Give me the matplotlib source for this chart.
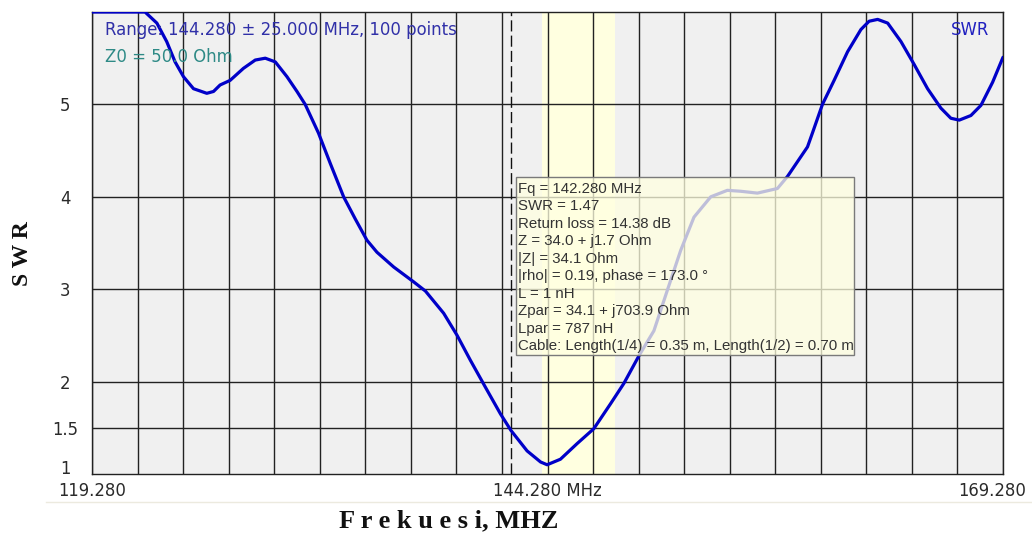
import matplotlib
matplotlib.use("Agg")
import matplotlib.pyplot as plt
import matplotlib.transforms as mtransforms
from matplotlib.patches import Rectangle
from matplotlib.lines import Line2D
import numpy as np

# ---------------- data ----------------
freq_mhz = [119.28, 122.19, 122.84, 123.38, 123.84, 124.30, 124.85, 125.58, 125.95, 126.31,
            126.86, 127.59, 128.24, 128.79, 129.34, 129.98, 130.53, 130.98, 131.71, 132.36,
            133.09, 133.73, 134.37, 134.92, 135.84, 136.93, 137.58, 138.58, 139.32, 140.05,
            140.87, 141.70, 142.28, 143.16, 143.90, 144.26, 144.99, 145.91, 146.82, 147.74,
            148.47, 149.30, 150.12, 150.86, 151.59, 152.32, 153.24, 154.15, 154.88, 155.80,
            156.90, 157.45, 158.55, 158.82, 159.37, 160.01, 160.75, 161.48, 161.93, 162.40,
            162.95, 163.68, 164.41, 165.14, 165.87, 166.42, 166.88, 167.52, 168.07, 168.71,
            169.28]
swr_values = [6.00, 6.00, 5.88, 5.68, 5.46, 5.30, 5.17, 5.12, 5.14, 5.21,
              5.26, 5.39, 5.48, 5.50, 5.46, 5.30, 5.14, 5.00, 4.69, 4.36,
              4.00, 3.76, 3.53, 3.40, 3.24, 3.08, 2.98, 2.74, 2.50, 2.23,
              1.94, 1.65, 1.47, 1.25, 1.13, 1.10, 1.16, 1.33, 1.49, 1.76,
              1.98, 2.28, 2.55, 2.99, 3.42, 3.78, 4.00, 4.07, 4.06, 4.04,
              4.09, 4.22, 4.54, 4.69, 5.00, 5.26, 5.57, 5.81, 5.90, 5.92,
              5.88, 5.68, 5.43, 5.17, 4.96, 4.85, 4.83, 4.88, 4.99, 5.24,
              5.51]

f_center = 144.280
f_span = 25.000
x_grid_step = 2.5
y_ticks = [1, 1.5, 2, 3, 4, 5]
y_tick_labels = ["1", "1.5", "2", "3", "4", "5"]
x_tick_values = [119.28, 144.28, 169.28]
x_tick_labels = ["119.280", "144.280 MHz", "169.280"]
band_low, band_high = 144.0, 148.0
marker_freq = 142.280

tooltip_lines = [
    "Fq = 142.280 MHz",
    "SWR = 1.47",
    "Return loss = 14.38 dB",
    "Z = 34.0 + j1.7 Ohm",
    "|Z| = 34.1 Ohm",
    "|rho| = 0.19, phase = 173.0 \u00b0",
    "L = 1 nH",
    "Zpar = 34.1 + j703.9 Ohm",
    "Lpar = 787 nH",
    "Cable: Length(1/4) = 0.35 m, Length(1/2) = 0.70 m",
]

# ---------------- figure ----------------
W, H = 1032, 534
fig = plt.figure(figsize=(W / 100, H / 100), dpi=100)
fig.patch.set_facecolor("white")

ax_l, ax_r, ax_t, ax_b = 92, 1003, 12, 474
ax = fig.add_axes([ax_l / W, 1 - ax_b / H, (ax_r - ax_l) / W, (ax_b - ax_t) / H])
ax.set_facecolor("#F0F0F0")

fmin, fmax = f_center - f_span, f_center + f_span
ax.set_xlim(fmin, fmax)
ax.set_ylim(1, 6)

# band
ax.axvspan(band_low, band_high, color="#FFFFE0", zorder=0.5, lw=0)

# grid
xt = np.arange(fmin, fmax + 1e-6, x_grid_step)
for x in xt:
    ax.axvline(x, color="#222222", lw=1.0, zorder=1)
for y in y_ticks[1:]:
    ax.axhline(y, color="#222222", lw=1.0, zorder=1)

# marker dashed line
ax.axvline(marker_freq, color="#111111", lw=1.0, ls=(0, (8, 3)), zorder=1.5)

# curve
ax.plot(freq_mhz, swr_values, color="#0000C8", lw=2.3, zorder=2.5,
        solid_joinstyle="round", solid_capstyle="round", clip_on=True)

# ticks
ax.set_xticks(x_tick_values)
ax.set_xticklabels(x_tick_labels)
ax.set_yticks(y_ticks)
ax.set_yticklabels(y_tick_labels)
ax.tick_params(axis="both", length=0, labelsize=11.9, labelcolor="#2a2a2a")
ax.tick_params(axis="x", pad=6)
ax.tick_params(axis="y", pad=27 * 0.72)
ylabs = ax.get_yticklabels()
for lab in ylabs:
    lab.set_horizontalalignment("center")
    lab.set_fontfamily("DejaVu Sans")
ylabs[0].set_transform(ylabs[0].get_transform() +
                       mtransforms.ScaledTranslation(0, 7 / 100, fig.dpi_scale_trans))
xlabs = ax.get_xticklabels()
for lab in xlabs:
    lab.set_fontfamily("DejaVu Sans")
xlabs[-1].set_horizontalalignment("right")
xlabs[-1].set_transform(xlabs[-1].get_transform() +
                        mtransforms.ScaledTranslation(23 / 100, 0, fig.dpi_scale_trans))

for s in ax.spines.values():
    s.set_color("#222222")
    s.set_linewidth(1.0)
    s.set_zorder(1.8)

# tooltip box
def px_to_ax(x, y):
    return (x - ax_l) / (ax_r - ax_l), (ax_b - y) / (ax_b - ax_t)

bx0, by0 = px_to_ax(516, 355)
bx1, by1 = px_to_ax(854, 176.7)
box = Rectangle((bx0, by0), bx1 - bx0, by1 - by0, transform=ax.transAxes,
                facecolor=(1.0, 1.0, 0.88, 0.75), edgecolor="#7a7a7a", lw=1.0, zorder=4)
ax.add_patch(box)
for i, line in enumerate(tooltip_lines):
    tx, ty = px_to_ax(518.5, 189 + i * 17.44)
    ax.text(tx, ty, line, transform=ax.transAxes, ha="left", va="center",
            fontsize=10.8, family="Liberation Sans", color="#333333", zorder=5)

# info texts in plot
def fig_text(x, y, s, **kw):
    fig.text(x / W, 1 - y / H, s, **kw)

fig_text(105, 30, "Range: 144.280 \u00b1 25.000 MHz, 100 points", ha="left", va="center",
         fontsize=11.9, family="DejaVu Sans", color="#3030A8", zorder=6)
fig_text(105, 56.5, "Z0 = 50.0 Ohm", ha="left", va="center",
         fontsize=11.9, family="DejaVu Sans", color="#2E8A86", zorder=6)
fig_text(989, 30, "SWR", ha="right", va="center",
         fontsize=11.9, family="DejaVu Sans", color="#2020C0", zorder=6)

# axis titles
fig_text(449, 521, "F r e k u e s i, MHZ", ha="center", va="center",
         fontsize=19, family="Liberation Serif", fontweight="bold", color="#111111")
fig_text(22, 254, "S W R", ha="center", va="center", rotation=90,
         fontsize=17, family="Liberation Serif", fontweight="bold", color="#111111")

# faint bottom line of screenshot
fig.add_artist(Line2D([46 / W, 1.0], [1 - 501.7 / H, 1 - 501.7 / H],
                      transform=fig.transFigure, color="#ECEADF", lw=1.0))

fig.savefig("out.png", dpi=100, facecolor="white")
